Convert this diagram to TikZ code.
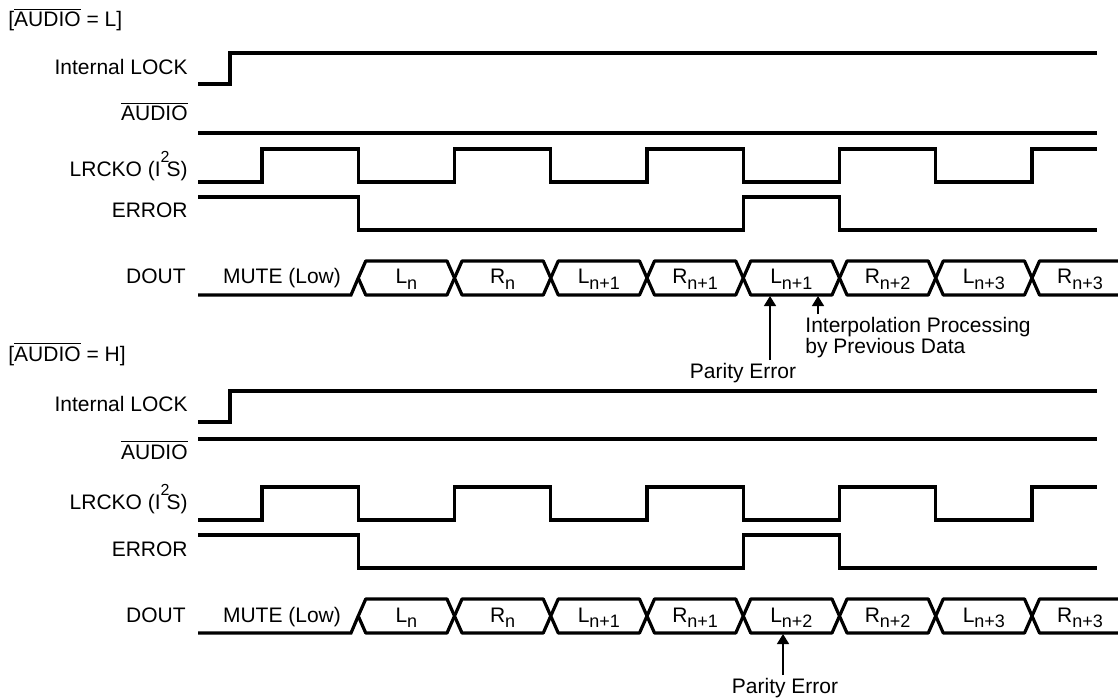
\documentclass[tikz,border=0pt]{standalone}
\usepackage{fontspec}
\setmainfont{Liberation Sans}
\usepackage{tikz}
\usetikzlibrary{arrows.meta}

\newcommand{\dsub}[1]{\raisebox{-2.5pt}{\fontsize{9}{9}\selectfont #1}}
\newcommand{\nAudio}{$\overline{\mbox{AUDIO}}$}

\begin{document}
\begin{tikzpicture}[x=0.5pt, y=-0.5pt,
	sig/.style={line width=1.6pt, line join=miter},
	bus/.style={line width=1.6pt, line join=bevel},
	lbl/.style={anchor=base east, inner sep=0pt},
	pointer/.style={line width=0.7pt, -{Triangle[width=6pt,length=5pt]}, shorten <=1.5pt},
	every node/.style={font=\fontsize{10.5}{10.3}\selectfont}]
		\useasboundingbox (0,0) rectangle (1118,700);
		
		% 两种模式的标题
		\node[anchor=base west, inner sep=0pt] (modeL) at (8,27) {[\nAudio{} = L]};
		\node[anchor=base west, inner sep=0pt] (modeH) at (8,361) {[\nAudio{} = H]};
		
		% 上下两组波形
		\foreach \oy/\ay/\lly/\cky/\dn/\dd in {0/133/75/177/1/1, 338/101/73/171/2/2} {
			\begin{scope}[shift={(0,\oy)}]
				\node[lbl] (lock\dn) at (188,\lly) {Internal LOCK};
				\node[lbl] (audio\dn) at (188,121) {\nAudio};
				\node[lbl] (lrck\dn) at (188,\cky) {LRCKO (I\raisebox{7pt}{\fontsize{8}{8}\selectfont 2}\kern-1.5pt S)};
				\node[lbl] (err\dn) at (188,218) {ERROR};
				\node[lbl] (dout\dn) at (186,284) {DOUT};
				
				\draw[sig] (198,84) -- (230,84) -- (230,53) -- (1097,53);
				\draw[sig] (198,\ay) -- (1097,\ay);
				\draw[sig] (198,182) foreach \k in {0,2,4,6} {
					-- ({262+96.25*\k},182) -- ({262+96.25*\k},149)
					-- ({358.25+96.25*\k},149) -- ({358.25+96.25*\k},182)
				} -- (1032,182) -- (1032,149) -- (1097,149);
				\draw[sig] (198,197) -- (358.25,197) -- (358.25,230) -- (743.25,230)
					-- (743.25,197) -- (839.5,197) -- (839.5,230) -- (1097,230);
				
				% DOUT 数据
				\draw[sig] (198,295) -- (351,295) -- (358.25,278);
				\node[anchor=base] (mute\dn) at (282,284) {MUTE (Low)};
				\foreach \k/\dat in {1/{L\dsub{n}}, 2/{R\dsub{n}}, 3/{L\dsub{n+1}}, 4/{R\dsub{n+1}},
					5/{L\dsub{n+\dd}}, 6/{R\dsub{n+2}}, 7/{L\dsub{n+3}}} {
					\pgfmathsetmacro\ea{262+96.25*\k}
					\pgfmathsetmacro\eb{\ea+96.25}
					\draw[bus] (\ea,278) -- (\ea+7.5,261) -- (\eb-7.5,261) -- (\eb,278)
						-- (\eb-7.5,295) -- (\ea+7.5,295) -- cycle;
					\node[anchor=base] (dat\dn\k) at ({(\ea+\eb)/2},284) {\dat};
				}
				\draw[bus] (1118,261) -- (1039.5,261) -- (1032,278) -- (1039.5,295) -- (1118,295);
				\node[anchor=base] (dat\dn8) at (1080,284) {R\dsub{n+3}};
			\end{scope}
		}
		
		% 标注箭头
		\node[anchor=north, inner sep=0pt] (perr1) at (743,363) {Parity Error};
		\coordinate (perrtip1) at (770,296);
		\draw[pointer] (perr1.north -| perrtip1) -- (perrtip1);
		
		\node[anchor=north west, inner sep=0pt, align=left] (interp) at (805,317)
			{Interpolation Processing\\by Previous Data};
		\coordinate (interptip) at (818,296);
		\draw[pointer] (interp.north -| interptip) -- (interptip);
		
		\node[anchor=north, inner sep=0pt] (perr2) at (785,678) {Parity Error};
		\coordinate (perrtip2) at (783,634);
		\draw[pointer] (perr2.north -| perrtip2) -- (perrtip2);
	\end{tikzpicture}
\end{document}
